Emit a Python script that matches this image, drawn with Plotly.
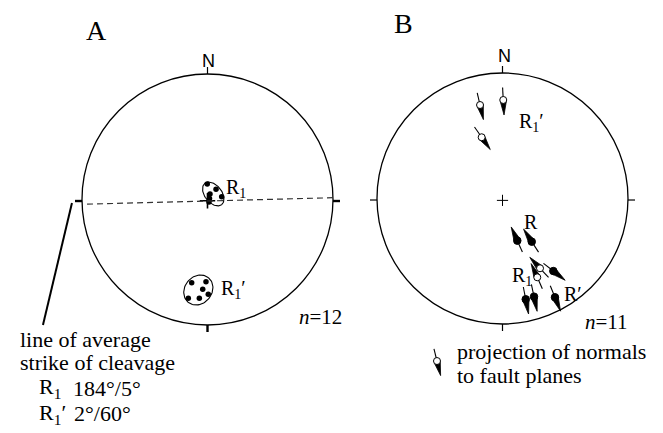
import numpy as np
import plotly.graph_objects as go

# ---------------- data (unit-circle coordinates of each stereonet) ----------------
panel_names = ["A", "B"]

# Panel A: R1 cluster and R1' cluster (points, equal-area net)
r1_x = [-0.002, 0.068, 0.113, 0.020, 0.016, 0.012]
r1_y = [0.124, 0.081, 0.022, 0.044, 0.008, -0.020]
r1p_x = [-0.126, -0.012, -0.038, 0.006, -0.153, -0.065]
r1p_y = [-0.663, -0.655, -0.716, -0.755, -0.787, -0.787]

# cluster envelopes: centre x, centre y, semi-axes, rotation (deg)
env_cx = [0.046, -0.073]
env_cy = [0.044, -0.721]
env_a = [0.108, 0.127]
env_b = [0.068, 0.108]
env_rot = [-52, 50]

strike_az = 88.5          # average strike of cleavage (deg)
count_a = 12
summary_labels = ["184°/5°", "2°/60°"]

# Panel B: projections of normals to fault planes
fault_x = [-0.179, 0.006, -0.166, 0.118, 0.233, 0.299, 0.277, 0.405, 0.185, 0.251, 0.418]
fault_y = [0.745, 0.785, 0.488, -0.336, -0.344, -0.556, -0.628, -0.578, -0.803, -0.782, -0.787]
fault_az = [167, 177, 145, 336, 327, 317, 336, 128, 169, 168, 158]
fault_filled = [False, False, False, True, True, False, False, True, True, True, True]
count_b = 11
legend_sym = (-0.522, -1.295, 166, False)

# ---------------- layout constants ----------------
PAGE_PAD = 8                     # default body margin of the html page
W, H = 663 - PAGE_PAD, 433 - PAGE_PAD
RPX = 125.5
CA = (207.5 - PAGE_PAD, 199.5 - PAGE_PAD)
CB = (502.5 - PAGE_PAD, 198.5 - PAGE_PAD)
SERIF = "Liberation Serif, Times New Roman, serif"
SANS = "Liberation Sans Narrow, Liberation Sans, Arial, sans-serif"

fig = go.Figure()

def u(px):
    return px / RPX

def ellipse(cx, cy, a, b, rot, n=80):
    t = np.linspace(0, 2 * np.pi, n)
    r = np.radians(rot)
    x = a * np.cos(t)
    y = b * np.sin(t)
    return cx + x * np.cos(r) - y * np.sin(r), cy + x * np.sin(r) + y * np.cos(r)

shapes = []
for xr, yr, thick in (("x", "y", 2.4), ("x2", "y2", 1.2)):
    shapes.append(dict(type="circle", xref=xr, yref=yr, x0=-1, y0=-1, x1=1, y1=1,
                       line=dict(color="black", width=1.3)))
    tl = u(7)
    for (x0, y0, x1, y1, w) in ((0, 1, 0, 1 + tl, 1.2),
                                (-1, -0.012, -1 - tl, -0.012, thick),
                                (1, -0.012, 1 + tl, -0.012, thick),
                                (0, -1, 0, -1 - tl, thick)):
        shapes.append(dict(type="line", xref=xr, yref=yr, x0=x0, y0=y0, x1=x1, y1=y1,
                           line=dict(color="black", width=w)))

# strike line (dashed diameter)
sa = np.radians(strike_az)
shapes.append(dict(type="line", xref="x", yref="y",
                   x0=-np.sin(sa) * 0.96, y0=-np.cos(sa) * 0.96 - 0.012,
                   x1=np.sin(sa), y1=np.cos(sa) - 0.012,
                   line=dict(color="#333", width=1.2, dash="6px,4px")))
# leader line to caption
shapes.append(dict(type="line", xref="x", yref="y", x0=-1.08, y0=-0.028, x1=-1.311, y1=-1.0,
                   line=dict(color="black", width=2)))

# envelopes
for cx, cy, a, b, rot in zip(env_cx, env_cy, env_a, env_b, env_rot):
    ex, ey = ellipse(cx, cy, a, b, rot)
    fig.add_trace(go.Scatter(x=ex, y=ey, mode="lines", line=dict(color="black", width=1.1),
                             hoverinfo="skip", xaxis="x", yaxis="y"))

# centre crosses
fig.add_trace(go.Scatter(x=[0], y=[-0.01], mode="markers", xaxis="x", yaxis="y",
                         marker=dict(symbol="cross-thin", size=11, line=dict(color="black", width=1.6))))
fig.add_trace(go.Scatter(x=[0], y=[-0.015], mode="markers", xaxis="x2", yaxis="y2",
                         marker=dict(symbol="cross-thin", size=8, line=dict(color="black", width=1))))

# points of panel A
fig.add_trace(go.Scatter(x=r1_x + r1p_x, y=r1_y + r1p_y, mode="markers", xaxis="x", yaxis="y",
                         marker=dict(color="black", size=5.5)))

# fault normal symbols
def fault_symbol(x, y, az, filled, xr="x2", yr="y2"):
    a = np.radians(az)
    d = np.array([np.sin(a), np.cos(a)])
    p = np.array([np.cos(a), -np.sin(a)])
    c = np.array([x, y])
    r0, tip, hw, tail = u(1.5), u(15.0), u(3.0), u(12.5)
    b1 = c + d * r0 + p * hw
    b2 = c + d * r0 - p * hw
    t = c + d * tip
    fig.add_trace(go.Scatter(x=[b1[0], t[0], b2[0], b1[0]], y=[b1[1], t[1], b2[1], b1[1]],
                             mode="lines", fill="toself", fillcolor="black",
                             line=dict(color="black", width=0.8), xaxis=xr, yaxis=yr,
                             hoverinfo="skip"))
    e = c - d * tail
    fig.add_trace(go.Scatter(x=[x, e[0]], y=[y, e[1]], mode="lines",
                             line=dict(color="black", width=1.1), xaxis=xr, yaxis=yr,
                             hoverinfo="skip"))
    fig.add_trace(go.Scatter(x=[x], y=[y], mode="markers", xaxis=xr, yaxis=yr,
                             marker=dict(size=7.5 if filled else 7,
                                         color="black" if filled else "white",
                                         line=dict(color="black", width=1))))

for x, y, az, f in zip(fault_x, fault_y, fault_az, fault_filled):
    fault_symbol(x, y, az, f)
fault_symbol(*legend_sym)

# ---------------- text ----------------
ann = []
def txt(t, x, y, xr, yr, size, font=SERIF, xa="left"):
    ann.append(dict(text=t, x=x, y=y, xref=xr, yref=yr, xanchor=xa, yanchor="middle",
                    showarrow=False, font=dict(family=font, size=size, color="black")))

txt(panel_names[0], -0.888, 1.343, "x", "y", 28, xa="center")
txt(panel_names[1], -0.785, 1.398, "x2", "y2", 28, xa="center")
txt("N", 0.004, 1.104, "x", "y", 18, SANS, "center")
txt("N", 0.012, 1.135, "x2", "y2", 18, SANS, "center")
txt("R<sub>1</sub>", 0.131, 0.084, "x", "y", 20)
txt("R<sub>1</sub>′", 0.092, -0.721, "x", "y", 20)
txt("<i>n</i>=%d" % count_a, 0.713, -0.936, "x", "y", 21)
txt("line of average", -1.51, -1.112, "x", "y", 22)
txt("strike of cleavage", -1.51, -1.295, "x", "y", 22)
txt("R<sub>1</sub>", -1.359, -1.502, "x", "y", 22)
txt(summary_labels[0], -1.088, -1.502, "x", "y", 22)
txt("R<sub>1</sub>′", -1.359, -1.709, "x", "y", 22)
txt(summary_labels[1], -1.08, -1.709, "x", "y", 22)

txt("R<sub>1</sub>′", 0.116, 0.602, "x2", "y2", 20)
txt("R", 0.155, -0.187, "x2", "y2", 20)
txt("R<sub>1</sub>", 0.060, -0.618, "x2", "y2", 20)
txt("R′", 0.474, -0.761, "x2", "y2", 20)
txt("<i>n</i>=%d" % count_b, 0.641, -0.984, "x2", "y2", 21)
txt("projection of normals", -0.378, -1.223, "x2", "y2", 22)
txt("to fault planes", -0.378, -1.414, "x2", "y2", 22)

ax = dict(visible=False, showgrid=False, zeroline=False, fixedrange=True, domain=[0, 1])
fig.update_layout(
    width=W, height=H, margin=dict(l=0, r=0, t=0, b=0),
    paper_bgcolor="white", plot_bgcolor="white", showlegend=False,
    xaxis=dict(ax, range=[-CA[0] / RPX, (W - CA[0]) / RPX]),
    yaxis=dict(ax, range=[-(H - CA[1]) / RPX, CA[1] / RPX]),
    xaxis2=dict(ax, range=[-CB[0] / RPX, (W - CB[0]) / RPX], overlaying="x"),
    yaxis2=dict(ax, range=[-(H - CB[1]) / RPX, CB[1] / RPX], overlaying="y"),
    shapes=shapes, annotations=ann,
)
fig.write_html("out.html")
